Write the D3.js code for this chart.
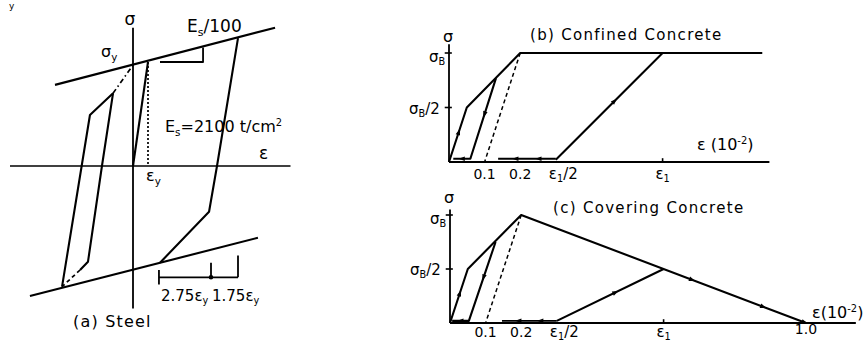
<!DOCTYPE html>
<html><head><meta charset="utf-8">
<script src="https://cdn.jsdelivr.net/npm/d3@7"></script>
<style>
html,body{margin:0;padding:0;background:#fff;}
svg text{font-family:"DejaVu Sans",sans-serif;fill:#000;}
</style></head>
<body>
<svg id="c" width="867" height="342"></svg>
<script>
// ---------- Panel (a) Steel: strain in units of εy, stress in units of σy ----------
const steelUpperLine = [[-5.2,0.78],[9.47,1.33]];
const steelLowerLine = [[-6.87,-1.25],[8.33,-0.69]];
const steelElastic = [[0,0],[1,1]];
const steelRightBranch = [[7,1.23],[5.6,0],[5.07,-0.44],[1.8,-0.93]];
const steelLeftOuter = [[-4.73,-1.16],[-2.87,0.49],[-1.33,0.70]];
const steelLeftDashDot = [[-1.33,0.70],[0,0.97]];
const steelLeftInner = [[-1.33,0.70],[-2.07,0],[-3,-0.92],[-3.53,-1.0]];
const steelInnerDashed = [[-3.53,-1.0],[-4.73,-1.16]];
const steelSlopeTriangle = [[1.8,1],[4.67,1],[4.67,1.14]];
const steelDimension = [1.73, 5.2, 7]; // tick positions, 2.75εy and 1.75εy
const steelAxisX = [-8.2, 10.5];
const steelAxisY = [-1.37, 1.33];

// ---------- Panel (b) Confined concrete: strain in 10^-2, stress in σB ----------
const confEnvelope = [[0,0],[0.05,0.5],[0.2,1],[0.88,1]];
const confUnload = [[0.132,0.77],[0.06,0.03],[0.012,0.03]];
const confDashed = [[0.2,1],[0.1,0]];
const confReload = [[0.3,0.02],[0.6,1]];
const confFlat = [[0.138,0.03],[0.3,0.03]];
const confAxisX = [0, 0.9];
const confAxisY = [0, 1.08];

// ---------- Panel (c) Covering concrete ----------
const covEnvelope = [[0,0],[0.05,0.5],[0.2,1],[1.0,0]];
const covUnload = [[0.128,0.75],[0.053,0.02],[0.006,0.02]];
const covDashed = [[0.2,1],[0.1,0]];
const covReload = [[0.3,0.02],[0.6,0.5]];
const covFlat = [[0.146,0.02],[0.3,0.02]];
const covAxisX = [0, 1.14];
const covAxisY = [0, 1.05];

const concreteTicks = [0.1, 0.2];
const concreteTickLabels = ["0.1","0.2"];
const eps1 = 0.6, eps1Half = 0.3;

const svg = d3.select("#c");
const line = d3.line();

function path(g, data, sx, sy, opts={}) {
  g.append("path")
    .attr("d", line(data.map(d=>[sx(d[0]), sy(d[1])])))
    .attr("fill","none").attr("stroke","#000")
    .attr("stroke-width", opts.w || 2.1)
    .attr("stroke-dasharray", opts.dash || null)
    .attr("stroke-linejoin","round");
}
function arrow(g, p0, p1, t, sx, sy) {
  const x0=sx(p0[0]), y0=sy(p0[1]), x1=sx(p1[0]), y1=sy(p1[1]);
  const x = x0+(x1-x0)*t, y = y0+(y1-y0)*t;
  const ang = Math.atan2(y1-y0, x1-x0)*180/Math.PI;
  g.append("path").attr("d","M3.2,0 L-3,-2.3 L-3,2.3 Z")
    .attr("fill","#000").attr("transform",`translate(${x},${y}) rotate(${ang})`);
}
function txt(g, x, y, parts, size, anchor, ls) {
  const t = g.append("text").attr("x",x).attr("y",y).attr("font-size",size)
    .attr("text-anchor", anchor || "start")
    .attr("letter-spacing", ls || null);
  parts.forEach(p=>{
    const s = t.append("tspan").text(p.t);
    if (p.sub) s.attr("font-size", size*0.65).attr("dy", size*0.22);
    if (p.sup) s.attr("font-size", size*0.62).attr("dy", -size*0.4);
    if (p.back) s.attr("dy", p.back);
  });
  return t;
}

// ===== Panel (a) =====
const ga = svg.append("g");
const xa = d3.scaleLinear().domain([0,1]).range([133,148]);
const ya = d3.scaleLinear().domain([0,1]).range([166,62]);
path(ga, [[steelAxisX[0],0],[steelAxisX[1],0]], xa, ya, {w:1.6});
path(ga, [[0,steelAxisY[0]],[0,steelAxisY[1]]], xa, ya, {w:1.8});
path(ga, steelUpperLine, xa, ya);
path(ga, steelLowerLine, xa, ya);
path(ga, steelElastic, xa, ya);
path(ga, steelRightBranch, xa, ya);
path(ga, steelLeftOuter, xa, ya);
path(ga, steelLeftDashDot, xa, ya, {dash:"5,3,1.5,3", w:1.7});
path(ga, steelLeftInner, xa, ya);
path(ga, steelInnerDashed, xa, ya, {dash:"4,3", w:1.7});
path(ga, [[1,1],[1,0]], xa, ya, {dash:"2,2", w:1.7});
path(ga, steelSlopeTriangle, xa, ya, {w:1.8});
// dimension line
const dimY = -1.07;
path(ga, [[steelDimension[0],dimY],[steelDimension[2],dimY]], xa, ya, {w:1.8});
path(ga, [[steelDimension[0],dimY+0.07],[steelDimension[0],dimY-0.07]], xa, ya, {w:1.8});
path(ga, [[steelDimension[1],dimY+0.14],[steelDimension[1],dimY]], xa, ya, {w:1.8});
path(ga, [[steelDimension[2],dimY+0.21],[steelDimension[2],dimY]], xa, ya, {w:1.8});
ga.append("circle").attr("cx",xa(steelDimension[1])).attr("cy",ya(dimY)).attr("r",2.3).attr("fill","#000");

txt(ga, 130, 25, [{t:"σ"}], 17, "middle");
txt(ga, 101, 57, [{t:"σ"},{t:"y",sub:true}], 16);
txt(ga, 187, 32, [{t:"E"},{t:"s",sub:true},{t:"/100",back:-3.5}], 17);
txt(ga, 165, 132, [{t:"E"},{t:"s",sub:true},{t:"=2100 t/cm",back:-3.5},{t:"2",sup:true}], 16);
txt(ga, 146, 181, [{t:"ε"},{t:"y",sub:true}], 16);
txt(ga, 259, 159, [{t:"ε"}], 17);
txt(ga, 161, 301, [{t:"2.75ε"},{t:"y",sub:true}], 15);
txt(ga, 212, 301, [{t:"1.75ε"},{t:"y",sub:true}], 15);
txt(ga, 73, 327, [{t:"(a)  Steel"}], 16, "start", 1.2);
txt(ga, 9, 9, [{t:"y"}], 9);

// ===== Concrete panels =====
function concrete(x0, y0, yTop, opts) {
  const g = svg.append("g");
  const sx = d3.scaleLinear().domain([0,1]).range([x0, x0+356]);
  const sy = d3.scaleLinear().domain([0,1]).range([y0, yTop]);
  path(g, [[opts.axisX[0],0],[opts.axisX[1],0]], sx, sy, {w:1.8});
  path(g, [[0,0],[0,opts.axisY[1]]], sx, sy, {w:1.8});
  // σ ticks
  [0.5,1].forEach(v=>path(g, [[-0.012,v],[0.008,v]], sx, sy, {w:1.6}));
  path(g, [[eps1,0],[eps1,0.035]], sx, sy, {w:1.6});
  path(g, opts.env, sx, sy);
  path(g, opts.unload, sx, sy);
  path(g, opts.dashed, sx, sy, {dash:"4,3", w:1.5});
  path(g, opts.reload, sx, sy);
  path(g, opts.flat, sx, sy, {w:1.8});
  // arrows
  arrow(g, opts.env[0], opts.env[1], 0.55, sx, sy);
  arrow(g, opts.unload[0], opts.unload[1], 0.45, sx, sy);
  arrow(g, opts.unload[1], opts.unload[2], 0.5, sx, sy);
  arrow(g, opts.reload[0], opts.reload[1], 0.55, sx, sy);
  arrow(g, opts.flat[1], opts.flat[0], 0.3, sx, sy);
  arrow(g, opts.flat[1], opts.flat[0], 0.7, sx, sy);
  if (opts.extraArrows) opts.extraArrows(g, sx, sy);
  // labels
  txt(g, x0-1, opts.sigmaY, [{t:"σ"}], 16, "middle");
  txt(g, x0-20, sy(1)+9, [{t:"σ"},{t:"B",sub:true}], 15);
  txt(g, x0-40, sy(0.5)+6, [{t:"σ"},{t:"B",sub:true},{t:"/2",back:-3.3}], 15);
  concreteTicks.forEach((v,i)=>txt(g, sx(v), opts.tickY, [{t:concreteTickLabels[i]}], 14, "middle"));
  txt(g, sx(eps1Half)-7, opts.tickY, [{t:"ε"},{t:"1",sub:true},{t:"/2",back:-3.1}], 15);
  txt(g, sx(eps1), opts.tickY, [{t:"ε"},{t:"1",sub:true}], 15, "middle");
  return {g, sx, sy};
}

const b = concrete(449, 162, 53, {
  axisX: confAxisX, axisY: confAxisY, env: confEnvelope, unload: confUnload,
  dashed: confDashed, reload: confReload, flat: confFlat, sigmaY: 42, tickY: 179
});
txt(b.g, 530, 40, [{t:"(b)  Confined  Concrete"}], 15, "start", 1.3);
txt(b.g, 697, 150, [{t:"ε  (10"},{t:"-2",sup:true},{t:")",back:6}], 16);

const c = concrete(450, 323, 215, {
  axisX: covAxisX, axisY: covAxisY, env: covEnvelope, unload: covUnload,
  dashed: covDashed, reload: covReload, flat: covFlat, sigmaY: 203, tickY: 337,
  extraArrows: (g, sx, sy) => {
    arrow(g, covEnvelope[2], covEnvelope[3], 0.6, sx, sy);
    arrow(g, covEnvelope[2], covEnvelope[3], 0.85, sx, sy);
    arrow(g, covEnvelope[2], covEnvelope[3], 0.995, sx, sy);
  }
});
txt(c.g, 553, 213, [{t:"(c)  Covering  Concrete"}], 15, "start", 1.3);
txt(c.g, c.sx(1.0), 334, [{t:"1.0"}], 14, "middle");
txt(c.g, 812, 318, [{t:"ε(10"},{t:"-2",sup:true},{t:")",back:6}], 16);
</script>
</body></html>
